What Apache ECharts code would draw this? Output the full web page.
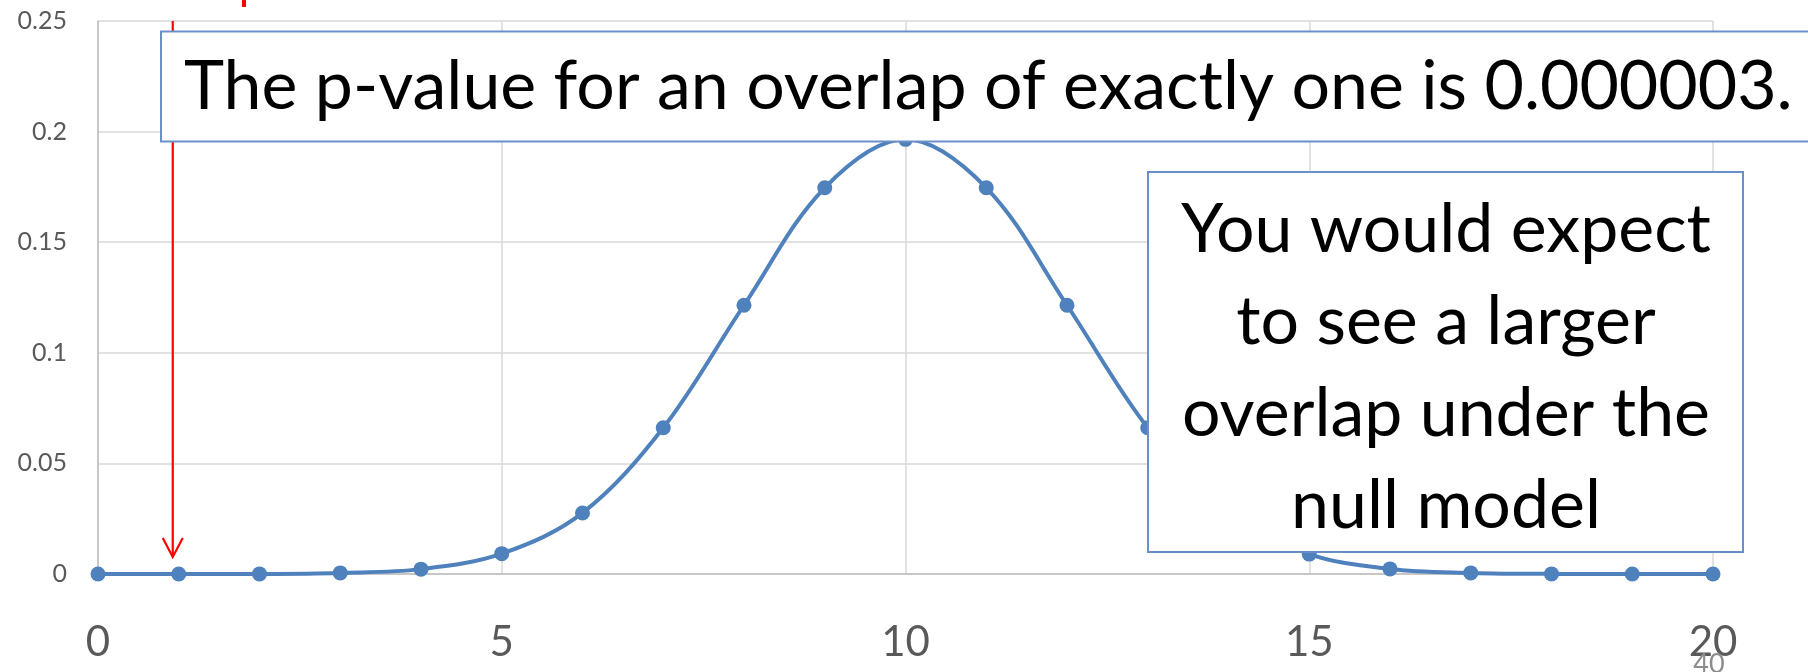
<!DOCTYPE html>
<html>
<head>
<meta charset="utf-8">
<script src="https://cdn.jsdelivr.net/npm/echarts@6/dist/echarts.min.js"></script>
<style>
  html, body { margin: 0; padding: 0; background: #ffffff; }
  #chart { width: 1808px; height: 672px; }
</style>
</head>
<body>
<div id="chart"></div>
<script>
// Overlap size and its probability under the null model
const overlap = [0, 1, 2, 3, 4, 5, 6, 7, 8, 9, 10, 11, 12, 13, 14, 15, 16, 17, 18, 19, 20];
const probability = [0, 0.000003, 0.00005, 0.0005, 0.0022, 0.0092, 0.0276, 0.0661, 0.1215, 0.1746, 0.1965,
                     0.1746, 0.1215, 0.0661, 0.0276, 0.0090, 0.0023, 0.0005, 0.00005, 0.000003, 0];
const observedOverlap = 1;

const pValueText = 'The p-value for an overlap of exactly one is 0.000003.';
const expectText = ['You would expect', 'to see a larger', 'overlap under the', 'null model'];
const slideNumber = '40';

const FONT = 'Lato, "Open Sans", sans-serif';
const BLUE = '#4F81BD';

const chart = echarts.init(document.getElementById('chart'), null, { renderer: 'canvas' });

const option = {
  animation: false,
  backgroundColor: '#ffffff',
  grid: { left: 98, right: 95, top: 21, bottom: 98, containLabel: false },
  xAxis: {
    type: 'value',
    min: 0, max: 20, interval: 5,
    axisLine: { show: true, lineStyle: { color: '#BFBFBF', width: 1.5 } },
    axisTick: { show: false },
    splitLine: { show: true, lineStyle: { color: '#D9D9D9', width: 1.5 } },
    axisLabel: { color: '#595959', fontFamily: FONT, fontSize: 42, margin: 47 }
  },
  yAxis: {
    type: 'value',
    min: 0, max: 0.25, interval: 0.05,
    axisLine: { show: true, lineStyle: { color: '#BFBFBF', width: 1.5 } },
    axisTick: { show: false },
    splitLine: { show: true, lineStyle: { color: '#D9D9D9', width: 1.5 } },
    axisLabel: { color: '#595959', fontFamily: FONT, fontSize: 25, margin: 31 }
  },
  series: [{
    type: 'line',
    data: overlap.map((k, i) => [k, probability[i]]),
    smooth: 0.35,
    symbol: 'circle',
    symbolSize: 15,
    itemStyle: { color: BLUE },
    lineStyle: { color: BLUE, width: 4 },
    z: 2
  }]
};

chart.setOption(option);

// Annotations: arrow to the observed overlap and the two callout boxes
const tipX = chart.convertToPixel({ xAxisIndex: 0 }, observedOverlap);
const topY = chart.convertToPixel({ yAxisIndex: 0 }, 0.25);
const baseY = chart.convertToPixel({ yAxisIndex: 0 }, 0);
const tipY = baseY - 17;

chart.setOption({
  graphic: [
    {
      type: 'line', z: 50,
      shape: { x1: tipX - 6, y1: topY, x2: tipX - 6, y2: tipY },
      style: { stroke: '#FF0000', lineWidth: 2.2 }
    },
    {
      type: 'polyline', z: 50,
      shape: { points: [[tipX - 16, tipY - 19], [tipX - 6, tipY], [tipX + 4, tipY - 19]] },
      style: { stroke: '#FF0000', lineWidth: 2.2, fill: null }
    },
    {
      type: 'line', z: 50,
      shape: { x1: 244, y1: 0, x2: 244, y2: 7 },
      style: { stroke: '#FF0000', lineWidth: 4 }
    },
    {
      type: 'rect', z: 100,
      shape: { x: 161, y: 31.5, width: 1700, height: 110 },
      style: { fill: '#ffffff', stroke: '#6A8FC8', lineWidth: 2 }
    },
    {
      type: 'text', z: 101,
      x: 184, y: 87,
      style: {
        text: pValueText, fill: '#000000',
        font: '68px ' + FONT, textVerticalAlign: 'middle', textAlign: 'left'
      }
    },
    {
      type: 'rect', z: 100,
      shape: { x: 1148, y: 172, width: 595, height: 380 },
      style: { fill: '#ffffff', stroke: '#6A8FC8', lineWidth: 2 }
    },
    {
      type: 'text', z: 101,
      x: 1446, y: 368,
      style: {
        text: expectText.join('\n'), fill: '#000000',
        font: '68px ' + FONT, lineHeight: 92,
        textAlign: 'center', textVerticalAlign: 'middle'
      }
    },
    {
      type: 'text', z: 101,
      x: 1709, y: 664,
      style: {
        text: slideNumber, fill: '#8C8C8C',
        font: '27px ' + FONT, textAlign: 'center', textVerticalAlign: 'middle'
      }
    }
  ]
});
</script>
</body>
</html>
